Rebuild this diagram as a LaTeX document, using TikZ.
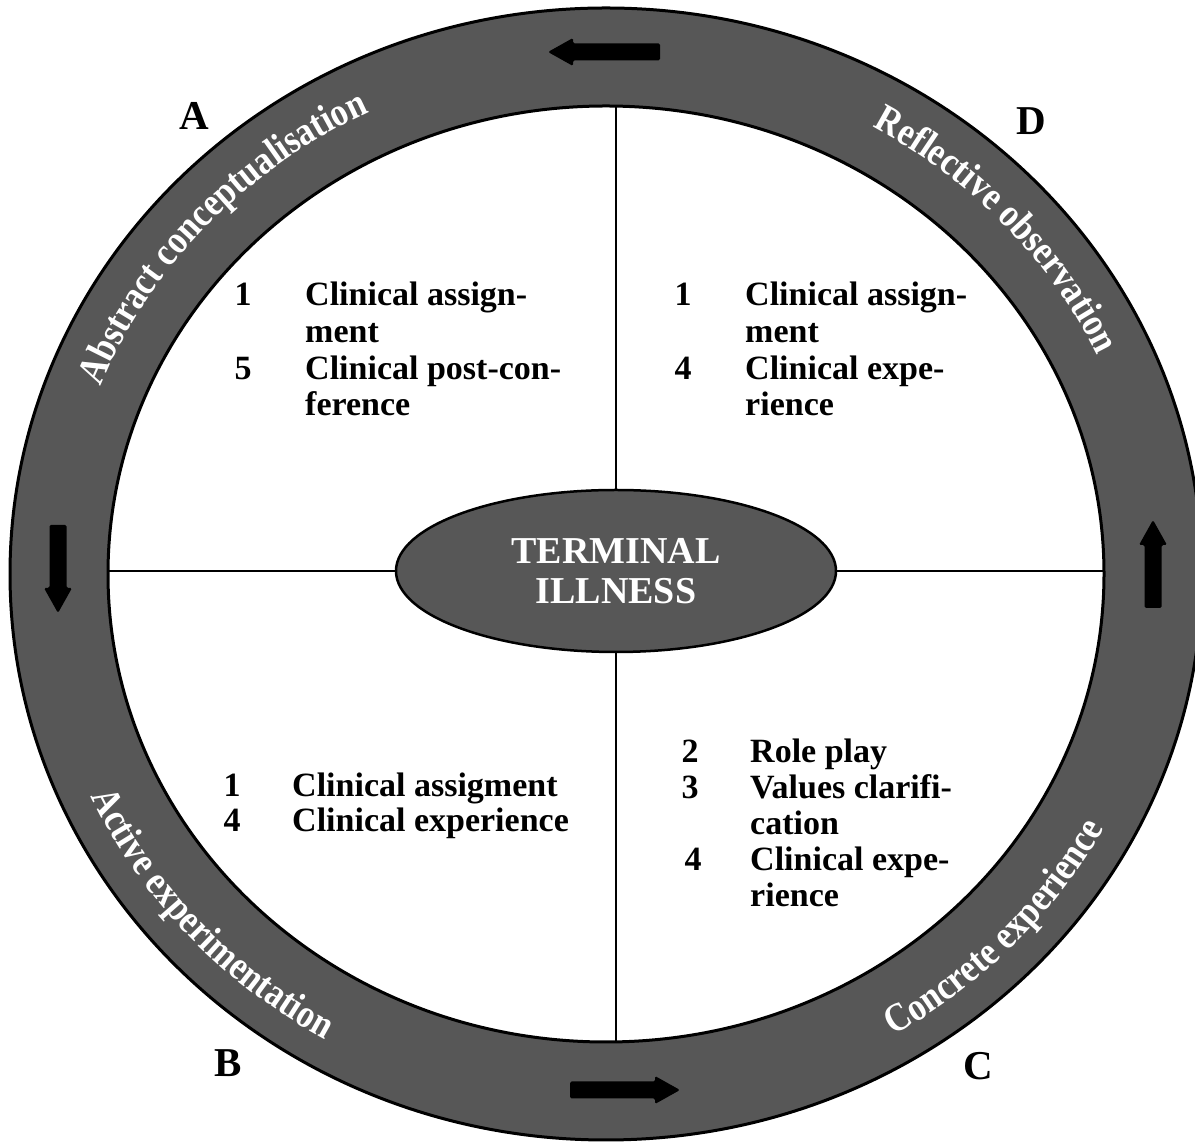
\documentclass[tikz,border=0pt]{standalone}
\usepackage{fontspec}
\setmainfont{Liberation Serif}
\newfontfamily\bandfamily{Liberation Serif}[FakeStretch=0.86]
\usetikzlibrary{shapes.geometric,decorations.text}

\definecolor{ringgray}{gray}{0.34}
\newcommand\quadfont{\bfseries\fontsize{34}{36}\selectfont}
\newcommand\cornerfont{\bfseries\fontsize{41}{41}\selectfont}
\newcommand\corefont{\bfseries\fontsize{38}{40}\selectfont}
\newcommand\ringfont{\bandfamily\bfseries\fontsize{40}{40}\selectfont}

% filled block arrow centred at (#1,#2), rotated by #3, total length #4
\newcommand\ringarrow[4]{%
  \fill[black, rounded corners=1.5, shift={(#1,#2)}, rotate=#3]
    ({-#4/2},-8.5) -- ({#4/2-25},-8.5) -- ({#4/2-25},-14) -- ({#4/2},0)
    -- ({#4/2-25},14) -- ({#4/2-25},8.5) -- ({-#4/2},8.5) -- cycle;}

\begin{document}
\begin{tikzpicture}[x=1pt, y=1pt,
  num/.style={font=\quadfont, anchor=base, inner sep=0pt},
  entry/.style={font=\quadfont, anchor=base west, inner sep=0pt},
  corner/.style={font=\cornerfont, anchor=base, inner sep=0pt},
  divider/.style={line width=2pt},
  ringtext/.style={decorate, decoration={text along path, text align=center,
    text={|\ringfont\color{white}|#1}}}]

\useasboundingbox (0,0) rectangle (1195,1146);
\coordinate (ringc) at (606,572);

% outer band
\fill[ringgray, even odd rule]
  (ringc) ellipse [x radius=596, y radius=566]
  (ringc) ellipse [x radius=498, y radius=468];
\draw[line width=3pt] (ringc) ellipse [x radius=596, y radius=566];
\draw[line width=3pt] (ringc) ellipse [x radius=498, y radius=468];

% cycle arrows on the band
\ringarrow{604}{1094}{180}{112}
\ringarrow{625}{56}{0}{110}
\ringarrow{58}{577}{-90}{88}
\ringarrow{1153}{582}{90}{88}

% band labels
\path[ringtext={Abstract conceptualisation}]
  (ringc) ++(172.5:543 and 513) arc[start angle=172.5, end angle=102.5, x radius=543, y radius=513];
\path[ringtext={Reflective observation}]
  (ringc) ++(77.5:543 and 513) arc[start angle=77.5, end angle=7.5, x radius=543, y radius=513];
\path[ringtext={Active experimentation}]
  (ringc) ++(187:566 and 536) arc[start angle=187, end angle=257, x radius=566, y radius=536];
\path[ringtext={Concrete experience}]
  (ringc) ++(281.5:566 and 536) arc[start angle=281.5, end angle=351.5, x radius=566, y radius=536];

% centre
\node[ellipse, draw, line width=2.5pt, fill=ringgray, minimum width=440, minimum height=162,
      inner sep=0pt, align=center, text=white, font=\corefont] (core) at (616,575)
      {TERMINAL\\ILLNESS};

% quadrant dividers
\coordinate (dtop) at (616,1039);
\coordinate (dbot) at (616,104);
\coordinate (dleft) at (108,575);
\coordinate (dright) at (1105,575);
\draw[divider] (dtop) -- (core.north);
\draw[divider] (core.south) -- (dbot);
\draw[divider] (dleft) -- (core.west);
\draw[divider] (core.east) -- (dright);

% corner letters
\node[corner] (la) at (194,1016) {A};
\node[corner] (ld) at (1031,1011) {D};
\node[corner] (lb) at (228,69) {B};
\node[corner] (lc) at (978,66) {C};

% upper-left quadrant
\node[num] (a1) at (243,840) {1};
\node[entry] (a1t) at (305,840) {Clinical assign-};
\node[entry] (a1u) at (305,803) {ment};
\node[num] (a5) at (243,766) {5};
\node[entry] (a5t) at (305,766) {Clinical post-con-};
\node[entry] (a5u) at (305,730) {ference};

% upper-right quadrant
\node[num] (d1) at (683,840) {1};
\node[entry] (d1t) at (745,840) {Clinical assign-};
\node[entry] (d1u) at (745,803) {ment};
\node[num] (d4) at (683,766) {4};
\node[entry] (d4t) at (745,766) {Clinical expe-};
\node[entry] (d4u) at (745,730) {rience};

% lower-left quadrant
\node[num] (b1) at (232,349) {1};
\node[entry] (b1t) at (292,349) {Clinical assigment};
\node[num] (b4) at (232,314) {4};
\node[entry] (b4t) at (292,314) {Clinical experience};

% lower-right quadrant
\node[num] (c2) at (690,383) {2};
\node[entry] (c2t) at (750,383) {Role play};
\node[num] (c3) at (690,347) {3};
\node[entry] (c3t) at (750,347) {Values clarifi-};
\node[entry] (c3u) at (750,311) {cation};
\node[num] (c4) at (693,275) {4};
\node[entry] (c4t) at (750,275) {Clinical expe-};
\node[entry] (c4u) at (750,239) {rience};

\end{tikzpicture}
\end{document}
